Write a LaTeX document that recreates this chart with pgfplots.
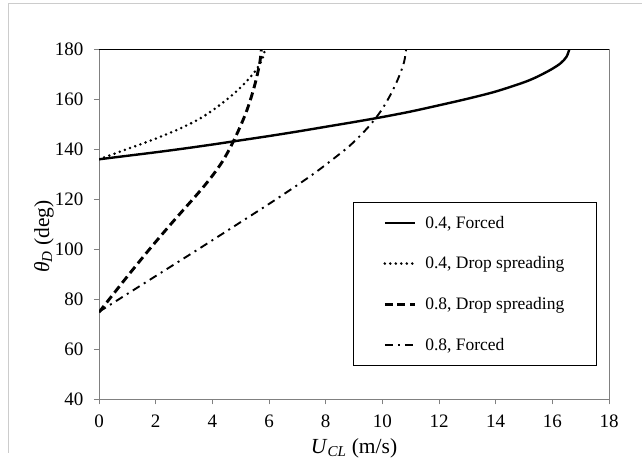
\documentclass[border=0pt]{standalone}
\usepackage{pgfplots}
\pgfplotsset{compat=1.18}
\usepackage{fontspec}
\setmainfont{Liberation Serif}
\begin{document}
\begin{tikzpicture}
\path[use as bounding box] (0,0) rectangle (642pt,460pt);
\fill[white] (0,0) rectangle (642pt,460pt);
\draw[black!20, line width=1pt] (8pt,7pt) -- (8pt,456pt) -- (642pt,456pt);
\begin{axis}[
  at={(99pt,60.7pt)}, anchor=south west, scale only axis,
  width=510pt, height=350pt,
  xmin=0, xmax=18, ymin=40, ymax=180,
  xtick={0,2,...,18}, ytick={40,60,...,180},
  tick align=outside, major tick length=5pt,
  xtick pos=bottom, ytick pos=left,
  axis line style={color=black!50, line width=1pt},
  tick style={color=black!50, line width=1pt},
  ticklabel style={font=\fontsize{19}{21}\selectfont},
  xticklabel style={yshift=-7pt},
  yticklabel style={xshift=-7pt},
  /pgf/number format/assume math mode=true,
  xlabel={\textit{U}\textsubscript{\textit{CL}} (m/s)},
  ylabel={\textit{θ}\textsubscript{\textit{D}} (deg)},
  label style={font=\fontsize{21.5}{24}\selectfont},
  xlabel style={at={(axis description cs:0.5,-0.14)}, anchor=center},
  ylabel style={at={(axis description cs:-0.108,0.465)}, anchor=center},
  legend style={at={(0.498,0.5646)}, anchor=north west, draw=black, line width=0.8pt,
    inner xsep=30pt, inner ysep=12pt, row sep=23pt, column sep=7pt,
    font=\fontsize{17.5}{19}\selectfont},
  legend cell align=left,
  legend image code/.code={\draw[#1] (0pt,0pt) -- (30pt,0pt);},
]
\addplot[black, line width=2.4pt, smooth] coordinates {
(0,136)(1,137.4)(2,138.8)(3,140.3)(4,141.9)(5,143.6)(6,145.3)(7,147.1)(8,149)(9,150.9)
(10,152.9)(11,155.1)(12,157.6)(13,160.2)(14,163.1)(15,166.8)(15.5,169.2)(16,172.2)
(16.3,174.5)(16.5,177)(16.6,180)};
\addlegendentry{0.4, Forced}
\addplot[black, line width=2.8pt, line cap=round, dash pattern=on 0pt off 5.5pt, smooth] coordinates {
(0,136)(0.97,140)(1.94,144)(2.80,148)(3.52,152)(4.06,156)(4.52,160)(4.93,164)(5.27,168)
(5.56,172)(5.76,176)(5.86,180)};
\addlegendentry{0.4, Drop spreading}
\addplot[black, line width=2.9pt, dash pattern=on 8pt off 4.5pt, smooth] coordinates {
(0,74.8)(0.36,80)(1.06,90)(1.78,100)(2.53,110)(3.31,120)(3.69,125)(4.04,130)(4.35,135)
(4.60,140)(4.82,145)(5.02,150)(5.20,155)(5.35,160)(5.48,165)(5.59,170)(5.68,175)(5.73,180)};
\addlegendentry{0.8, Drop spreading}
\addplot[black, line width=1.9pt, dash pattern=on 8pt off 5pt on 2pt off 5pt, smooth] coordinates {
(0,75)(0.70,80)(2.10,90)(3.50,100)(4.88,110)(6.25,120)(7.55,130)(8.70,140)(9.18,145)
(9.59,150)(9.93,155)(10.2,160)(10.43,165)(10.62,170)(10.77,175)(10.84,180)};
\addlegendentry{0.8, Forced}
\draw[black, line width=1pt] (rel axis cs:0,1) -- (rel axis cs:1,1);
\end{axis}
\end{tikzpicture}
\end{document}
